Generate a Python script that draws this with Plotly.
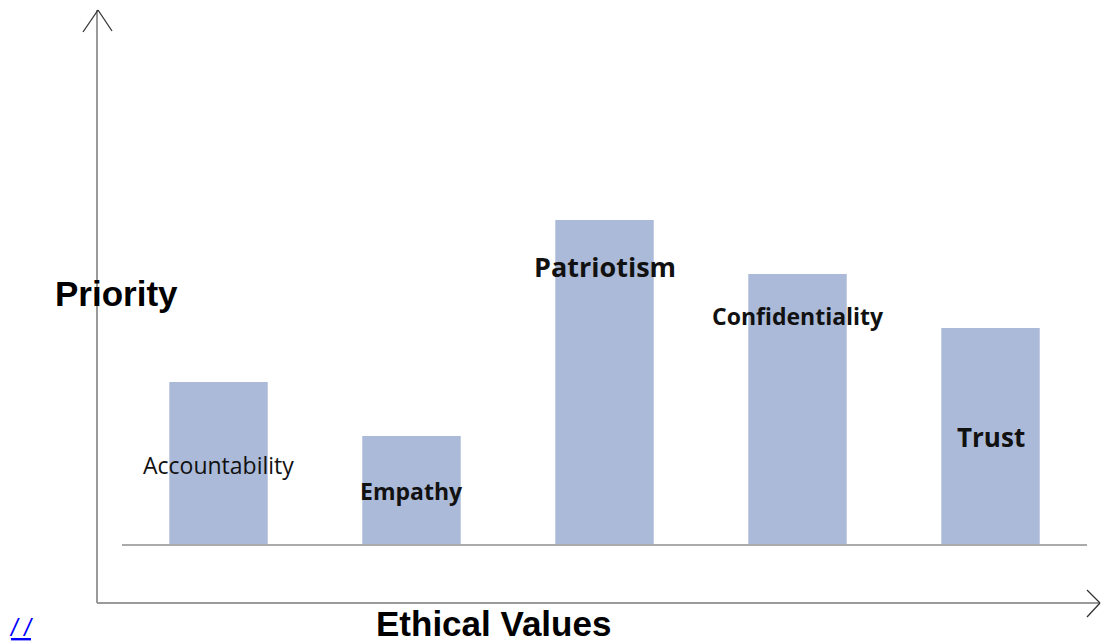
import plotly.graph_objects as go

categories = ["Accountability", "Empathy", "Patriotism", "Confidentiality", "Trust"]
priority = [3, 2, 6, 5, 4]

# label placement (layout only)
label_y = [1.46, 0.98, 5.13, 4.22, 1.98]
label_size = [23, 23, 27, 23, 26]
label_bold = [False, True, True, True, True]

W, H = 1101, 644
L, R, T, B = 122, 14, 4, 100
pw, ph = W - L - R, H - T - B

def px(x):
    return (x - L) / pw

def py(y):
    return (H - B - y) / ph

fig = go.Figure()
fig.add_trace(go.Bar(x=categories, y=priority, marker=dict(color="#abbad8", line=dict(width=0)),
                     hoverinfo="skip"))

for c, ly, s, b in zip(categories, label_y, label_size, label_bold):
    fig.add_annotation(x=c, y=ly, xref="x", yref="y", showarrow=False,
                       xanchor="center", yanchor="middle",
                       text=f"<b>{c}</b>" if b else c,
                       font=dict(family="Open Sans", size=s, color="#111111"))

shapes = []
axis_col = "#9a9a9a"
shapes.append(dict(type="line", xref="paper", yref="paper", x0=px(97), x1=px(97), y0=py(603), y1=py(10),
                   line=dict(color=axis_col, width=2)))
shapes.append(dict(type="line", xref="paper", yref="paper", x0=px(97), x1=px(1099), y0=py(603), y1=py(603),
                   line=dict(color=axis_col, width=2)))
head_col = "#333333"
for (x0, y0, x1, y1) in [(83, 32, 98, 10), (98, 10, 112, 31),
                         (1087, 590, 1100, 603), (1100, 603, 1087, 617)]:
    shapes.append(dict(type="line", xref="paper", yref="paper", x0=px(x0), x1=px(x1), y0=py(y0), y1=py(y1),
                       line=dict(color=head_col, width=1.3)))

fig.update_layout(shapes=shapes)

fig.add_annotation(xref="paper", yref="paper", x=px(116.5), y=py(293), showarrow=False,
                   xanchor="center", yanchor="middle",
                   text="<b>Priority</b>", font=dict(family="Liberation Sans", size=35, color="#000000"))
fig.add_annotation(xref="paper", yref="paper", x=px(493), y=py(623), showarrow=False,
                   xanchor="center", yanchor="middle",
                   text="<b>Ethical Values</b>", font=dict(family="Liberation Sans", size=35, color="#000000"))
fig.add_annotation(xref="paper", yref="paper", x=px(21), y=py(627), showarrow=False,
                   xanchor="center", yanchor="middle",
                   text="<u><i>/ /</i></u>", font=dict(family="Liberation Sans", size=24, color="#0000ff"))

fig.update_layout(
    width=W, height=H,
    margin=dict(l=L, r=R, t=T, b=B),
    paper_bgcolor="white", plot_bgcolor="white",
    bargap=0.49, showlegend=False,
    xaxis=dict(showticklabels=False, ticks="", showgrid=False, zeroline=False,
               showline=True, linecolor="#aaaaaa", linewidth=2, fixedrange=True),
    yaxis=dict(range=[0, 10], showticklabels=False, ticks="", showgrid=False, zeroline=False,
               showline=False, fixedrange=True),
)

fig.write_html("out.html", config={"displayModeBar": False},
               post_script="document.body.style.margin='0';document.body.style.overflow='hidden';")
